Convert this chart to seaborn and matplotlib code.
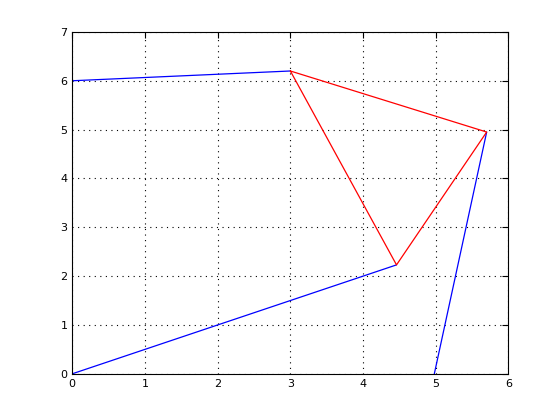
import matplotlib
matplotlib.use("Agg")
import matplotlib.pyplot as plt
import seaborn as sns
import pandas as pd

# blue links (each a two-point segment)
blue_x = [[0, 3], [0, 4.46], [4.98, 5.7]]
blue_y = [[6.0, 6.2], [0, 2.23], [0, 4.95]]

# red triangle (closed)
red_x = [3, 5.7, 4.46, 3]
red_y = [6.2, 4.95, 2.23, 6.2]

x_ticks = [0, 1, 2, 3, 4, 5, 6]
y_ticks = [0, 1, 2, 3, 4, 5, 6, 7]

sns.set_style("white")
plt.rcParams['font.family'] = ['DejaVu Sans']

fig = plt.figure(figsize=(5.6, 4.2), dpi=100)
ax = fig.add_axes([0.129, 0.110, 0.779, 0.814])

for xs, ys in zip(blue_x, blue_y):
    df = pd.DataFrame({"x": xs, "y": ys})
    sns.lineplot(data=df, x="x", y="y", sort=False, estimator=None,
                 color="#0000ff", lw=0.9, ax=ax)

# estimator=None so the repeated x=3 point is not averaged away
tri = pd.DataFrame({"x": red_x, "y": red_y})
sns.lineplot(data=tri, x="x", y="y", sort=False, estimator=None,
             color="#ff0000", lw=0.9, ax=ax)

ax.set_xlim(0, 6)
ax.set_ylim(0, 7)
ax.set_xticks(x_ticks)
ax.set_yticks(y_ticks)
ax.set_xlabel("")
ax.set_ylabel("")
ax.grid(True, linestyle=(0, (1, 4)), color="black", lw=0.8)
ax.tick_params(direction="in", top=True, right=True, length=4, labelsize=8, colors="black")
for s in ax.spines.values():
    s.set_color("black")
    s.set_linewidth(0.8)

fig.savefig("out.png", dpi=100)
